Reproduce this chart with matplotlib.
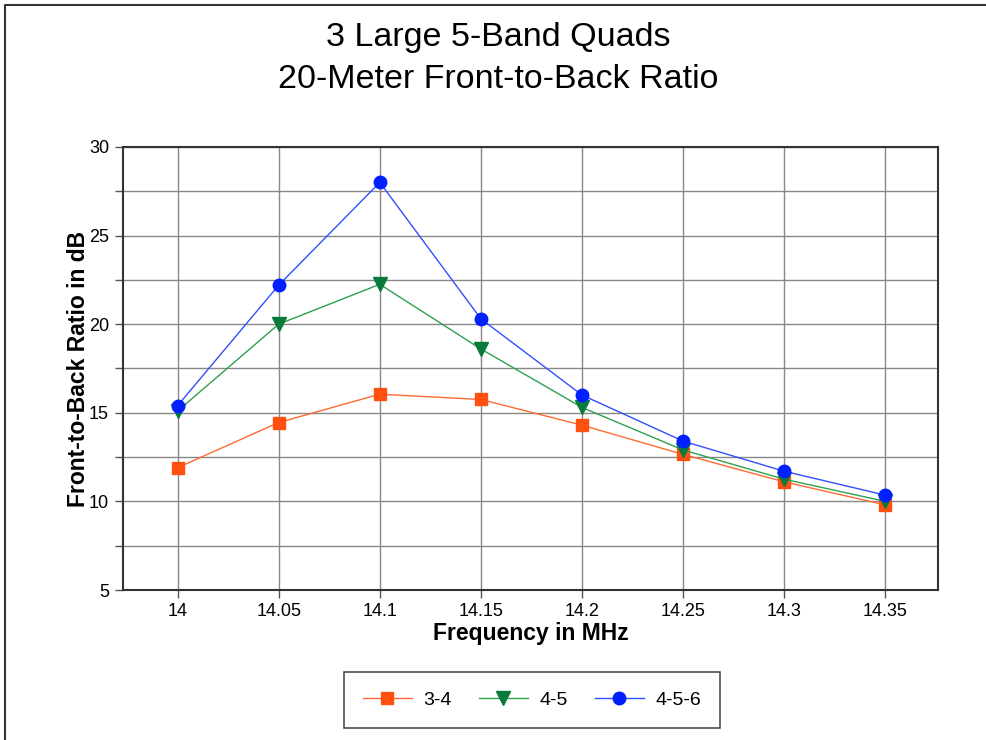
import matplotlib
matplotlib.use("Agg")
import matplotlib.pyplot as plt
from matplotlib.lines import Line2D

plt.rcParams["font.family"] = ["Liberation Sans", "DejaVu Sans"]

freq = [14.0, 14.05, 14.1, 14.15, 14.2, 14.25, 14.3, 14.35]
freq_labels = ["14", "14.05", "14.1", "14.15", "14.2", "14.25", "14.3", "14.35"]
fb_34 = [11.9, 14.45, 16.05, 15.75, 14.3, 12.65, 11.1, 9.8]
fb_45 = [15.1, 20.0, 22.25, 18.6, 15.3, 12.9, 11.25, 10.0]
fb_456 = [15.4, 22.2, 28.0, 20.3, 16.0, 13.4, 11.7, 10.35]

fig = plt.figure(figsize=(9.86, 7.4), dpi=100)
ax = fig.add_axes([0.1247, 0.2027, 0.8266, 0.5987])

ax.plot(freq, fb_34, color="#ff6a30", lw=1, marker="s", ms=9,
        mfc="#ff5010", mec="#ff5010", label="3-4", zorder=3)
ax.plot(freq, fb_45, color="#2ea050", lw=1, marker="v", ms=10,
        mfc="#0a7a3a", mec="#0a7a3a", label="4-5", zorder=4)
ax.plot(freq, fb_456, color="#3050ff", lw=1, marker="o", ms=9,
        mfc="#0020ff", mec="#0020ff", label="4-5-6", zorder=5)

ax.set_xlim(13.973, 14.376)
ax.set_ylim(5, 30)
ax.set_xticks(freq)
ax.set_xticklabels(freq_labels)
ax.set_yticks([5, 10, 15, 20, 25, 30])
ax.set_yticks([7.5, 12.5, 17.5, 22.5, 27.5], minor=True)
ax.grid(True, which="both", color="#888888", lw=1)
ax.set_axisbelow(True)
ax.tick_params(which="both", direction="out", length=6, width=1, color="#555555",
               labelsize=13)
ax.tick_params(axis="x", pad=3)
ax.tick_params(axis="y", pad=4)
for s in ax.spines.values():
    s.set_linewidth(1.5)
    s.set_color("#333333")

ax.set_xlabel("Frequency in MHz", fontsize=16.5, fontweight="bold", labelpad=2)
ax.set_ylabel("Front-to-Back Ratio in dB", fontsize=16.5, fontweight="bold", labelpad=-1)

fig.text(0.505, 0.949, "3 Large 5-Band Quads", ha="center", va="center", fontsize=24.5)
fig.text(0.505, 0.892, "20-Meter Front-to-Back Ratio", ha="center", va="center", fontsize=24.5)

leg = fig.legend(loc="center", bbox_to_anchor=(0.5396, 0.054), ncol=3, frameon=True,
                 fancybox=False, edgecolor="#222222", fontsize=14,
                 handlelength=2.5, columnspacing=1.4, borderpad=1.0, handletextpad=0.6)
leg.get_frame().set_linewidth(1.2)

# frame line along the top and left edge of the picture
fig.add_artist(Line2D([0.005, 0.005, 1.0], [0.0, 0.993, 0.993], transform=fig.transFigure,
                      color="#333333", lw=1.5))

fig.savefig("out.png", dpi=100)
